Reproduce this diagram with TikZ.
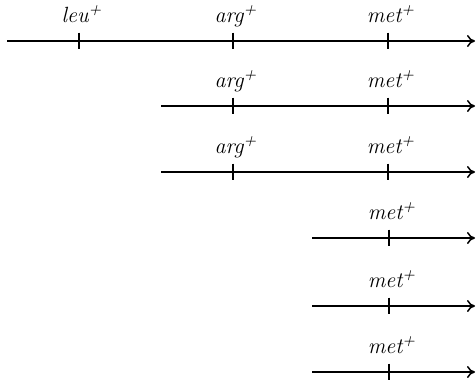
\documentclass[tikz,border=0pt]{standalone}
\usepackage{tikz}
\usetikzlibrary{arrows.meta, positioning}
\tikzset{
  site/.style={draw=none, inner sep=0pt, minimum width=0pt, minimum height=8pt},
  gene/.style={font=\fontsize{11}{13}\selectfont\itshape, anchor=base, inner sep=0pt},
  chrom/.style={line width=0.75pt, -{To[length=4pt, width=6pt]}},
  tick/.style={line width=0.6pt},
}
\newcommand{\gname}[1]{#1\textsuperscript{+}}

\begin{document}
\begin{tikzpicture}[x=0.5pt, y=-0.5pt]
  \useasboundingbox (0,0) rectangle (476,381);
  %% Row 1: leu, arg and met all present
  \coordinate (s1) at (7,41);
  \coordinate (e1) at (475,41);
  \node[site] (r1leu) at (79,41)  {};
  \node[site] (r1arg) at (233,41) {};
  \node[site] (r1met) at (388,41) {};
  \draw[chrom] (s1) -- (e1);
  \draw[tick] (r1leu.north) -- (r1leu.south);
  \draw[tick] (r1arg.north) -- (r1arg.south);
  \draw[tick] (r1met.north) -- (r1met.south);
  \node[gene] (g1leu) at (82,22)  {\gname{leu}};
  \node[gene] (g1arg) at (236,22) {\gname{arg}};
  \node[gene] (g1met) at (391,22) {\gname{met}};
  %% Rows 2-3: arg and met
  \coordinate (s2) at (161,106);
  \coordinate (e2) at (475,106);
  \node[site] (r2arg) at (233,106) {};
  \node[site] (r2met) at (388,106) {};
  \draw[chrom] (s2) -- (e2);
  \draw[tick] (r2arg.north) -- (r2arg.south);
  \draw[tick] (r2met.north) -- (r2met.south);
  \node[gene] (g2arg) at (236,87) {\gname{arg}};
  \node[gene] (g2met) at (391,87) {\gname{met}};
  \coordinate (s3) at (161,172);
  \coordinate (e3) at (475,172);
  \node[site] (r3arg) at (233,172) {};
  \node[site] (r3met) at (388,172) {};
  \draw[chrom] (s3) -- (e3);
  \draw[tick] (r3arg.north) -- (r3arg.south);
  \draw[tick] (r3met.north) -- (r3met.south);
  \node[gene] (g3arg) at (236,153) {\gname{arg}};
  \node[gene] (g3met) at (391,153) {\gname{met}};
  %% Rows 4-6: met only
  \coordinate (s4) at (312,238);
  \coordinate (e4) at (475,238);
  \node[site] (r4met) at (389,238) {};
  \draw[chrom] (s4) -- (e4);
  \draw[tick] (r4met.north) -- (r4met.south);
  \node[gene] (g4met) at (392,219) {\gname{met}};
  \coordinate (s5) at (312,306);
  \coordinate (e5) at (475,306);
  \node[site] (r5met) at (389,306) {};
  \draw[chrom] (s5) -- (e5);
  \draw[tick] (r5met.north) -- (r5met.south);
  \node[gene] (g5met) at (392,287) {\gname{met}};
  \coordinate (s6) at (312,372);
  \coordinate (e6) at (475,372);
  \node[site] (r6met) at (389,372) {};
  \draw[chrom] (s6) -- (e6);
  \draw[tick] (r6met.north) -- (r6met.south);
  \node[gene] (g6met) at (392,353) {\gname{met}};
\end{tikzpicture}
\end{document}
